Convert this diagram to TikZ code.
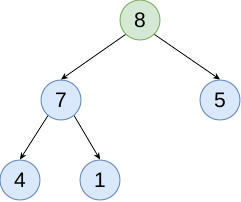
\documentclass[tikz,border=0pt]{standalone}
\usepackage{fontspec}
\setmainfont{Liberation Sans}
\usetikzlibrary{arrows.meta,positioning}

\definecolor{bluefill}{HTML}{DAE8FC}
\definecolor{bluedraw}{HTML}{6C8EBF}
\definecolor{greenfill}{HTML}{D5E8D4}
\definecolor{greendraw}{HTML}{82B366}

\begin{document}
\begin{tikzpicture}[
    x=1pt, y=-1pt,
    key/.style={circle, draw=bluedraw, fill=bluefill, line width=1pt, minimum size=40pt, inner sep=0pt, font=\fontsize{21}{21}\selectfont},
    rootkey/.style={key, draw=greendraw, fill=greenfill},
    arrow/.style={-{Stealth[length=7pt,width=6pt]}, line width=0.8pt}
]
\useasboundingbox (0,0) rectangle (241,201);
\node[rootkey] (root) at (140,20) {8};
\node[key] (left) at (61,100) {7};
\node[key] (right) at (220,100) {5};
\node[key] (leftleft) at (20,180) {4};
\node[key] (leftright) at (100,180) {1};

\draw[arrow] (root.-135) -- (left.north);
\draw[arrow] (root.-45) -- (right.north);
\draw[arrow] (left.-130) -- (leftleft.north);
\draw[arrow] (left.-50) -- (leftright.north);
\end{tikzpicture}
\end{document}
